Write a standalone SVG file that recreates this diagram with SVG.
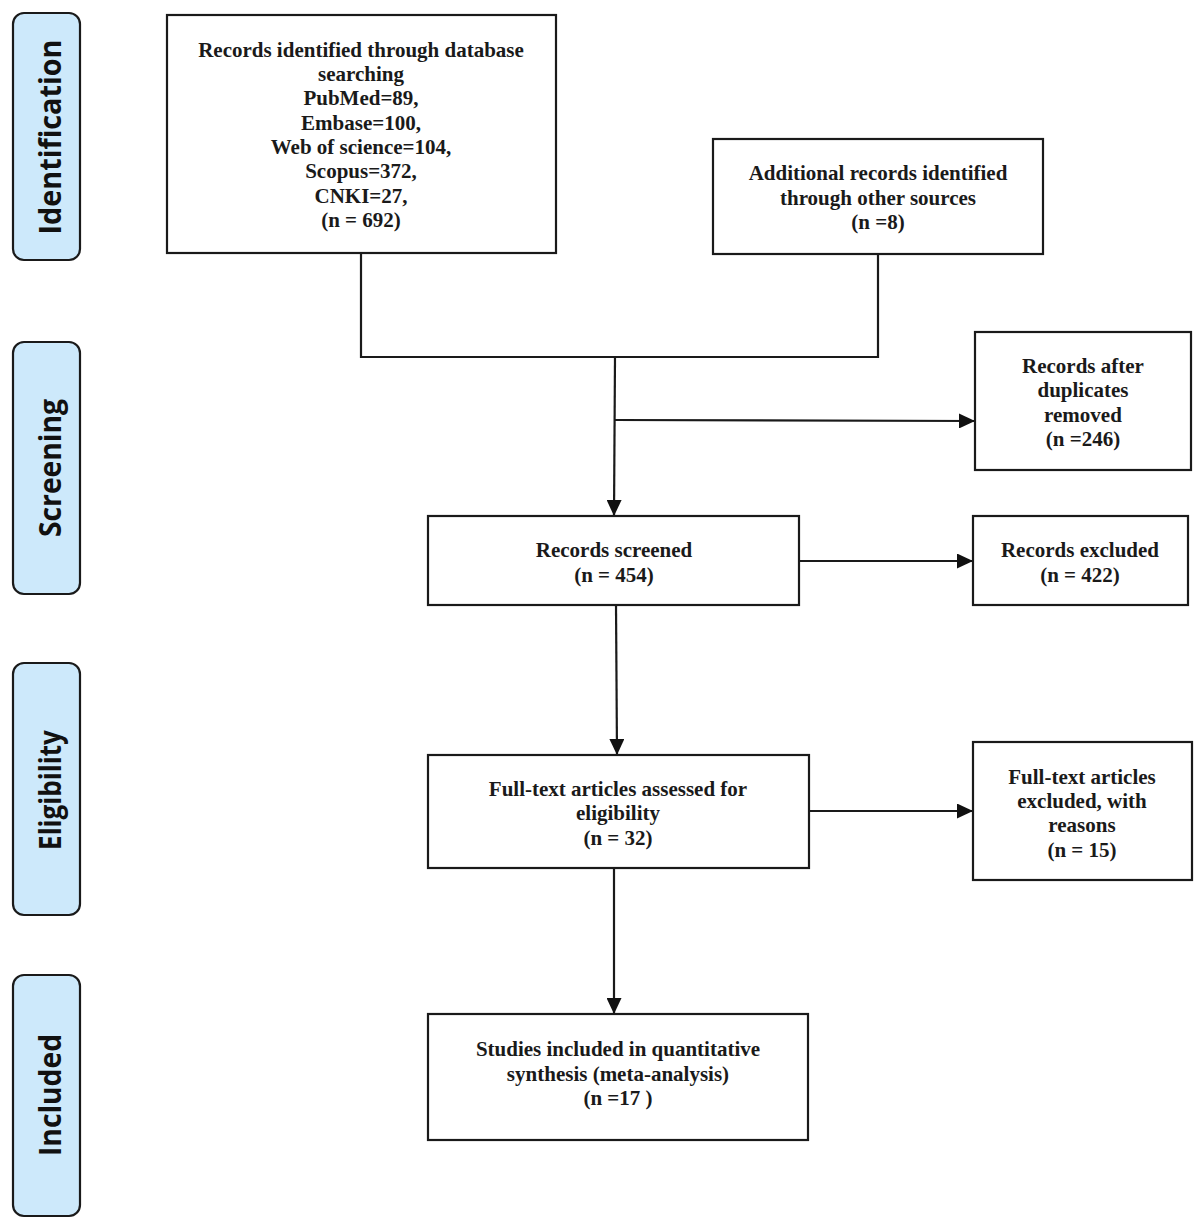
<svg xmlns="http://www.w3.org/2000/svg" width="1200" height="1225" viewBox="0 0 1200 1225">
<style>
.box{fill:#fff;stroke:#1a1a1a;stroke-width:2.2}
.phase{fill:#cde9fb;stroke:#1a1a1a;stroke-width:2.2}
.t{font-family:"Liberation Serif","Times New Roman",serif;font-weight:bold;font-size:21px;fill:#1a1a1a;text-anchor:middle}
.p{font-family:"Open Sans","Noto Sans",sans-serif;font-weight:bold;font-size:31px;fill:#111;text-anchor:middle}
.ln{fill:none;stroke:#1a1a1a;stroke-width:2.2}
</style>
<defs>
<marker id="ah" viewBox="0 0 16 15" refX="16" refY="7.5" markerWidth="16" markerHeight="15" markerUnits="userSpaceOnUse" orient="auto">
<path d="M0,0 L16,7.5 L0,15 Z" fill="#111"/>
</marker>
</defs>
<rect width="1200" height="1225" fill="#fff"/>

<g id="phase-identification">
<rect class="phase" x="13" y="13" width="67" height="247" rx="11"/>
<text class="p" x="61" y="137" transform="rotate(-90 61 137)" textLength="195" lengthAdjust="spacingAndGlyphs">Identification</text>
</g>
<g id="phase-screening">
<rect class="phase" x="13" y="342" width="67" height="252" rx="11"/>
<text class="p" x="61" y="468" transform="rotate(-90 61 468)" textLength="138" lengthAdjust="spacingAndGlyphs">Screening</text>
</g>
<g id="phase-eligibility">
<rect class="phase" x="13" y="663" width="67" height="252" rx="11"/>
<text class="p" x="61" y="790" transform="rotate(-90 61 790)" textLength="120" lengthAdjust="spacingAndGlyphs">Eligibility</text>
</g>
<g id="phase-included">
<rect class="phase" x="13" y="975" width="67" height="241" rx="11"/>
<text class="p" x="61" y="1095" transform="rotate(-90 61 1095)" textLength="122" lengthAdjust="spacingAndGlyphs">Included</text>
</g>

<g id="connectors">
<polyline class="ln" points="361,253 361,357 878,357 878,254"/>
<line class="ln" x1="615" y1="357" x2="614" y2="516" marker-end="url(#ah)"/>
<line class="ln" x1="615" y1="420" x2="975" y2="421" marker-end="url(#ah)"/>
<line class="ln" x1="799" y1="561" x2="973" y2="561" marker-end="url(#ah)"/>
<line class="ln" x1="616" y1="605" x2="617" y2="755" marker-end="url(#ah)"/>
<line class="ln" x1="809" y1="811" x2="973" y2="811" marker-end="url(#ah)"/>
<line class="ln" x1="614" y1="868" x2="614" y2="1014" marker-end="url(#ah)"/>
</g>

<g id="node-database">
<rect class="box" x="167" y="15" width="389" height="238"/>
<text class="t" x="361" y="57">Records identified through database</text>
<text class="t" x="361" y="81">searching</text>
<text class="t" x="361" y="105">PubMed=89,</text>
<text class="t" x="361" y="130">Embase=100,</text>
<text class="t" x="361" y="154">Web of science=104,</text>
<text class="t" x="361" y="178">Scopus=372,</text>
<text class="t" x="361" y="203">CNKI=27,</text>
<text class="t" x="361" y="227">(n = 692)</text>
</g>

<g id="node-additional">
<rect class="box" x="713" y="139" width="330" height="115"/>
<text class="t" x="878" y="180">Additional records identified</text>
<text class="t" x="878" y="205">through other sources</text>
<text class="t" x="878" y="229">(n =8)</text>
</g>

<g id="node-duplicates">
<rect class="box" x="975" y="332" width="216" height="138"/>
<text class="t" x="1083" y="373">Records after</text>
<text class="t" x="1083" y="397">duplicates</text>
<text class="t" x="1083" y="422">removed</text>
<text class="t" x="1083" y="446">(n =246)</text>
</g>

<g id="node-screened">
<rect class="box" x="428" y="516" width="371" height="89"/>
<text class="t" x="614" y="557">Records screened</text>
<text class="t" x="614" y="582">(n = 454)</text>
</g>

<g id="node-excluded">
<rect class="box" x="973" y="516" width="215" height="89"/>
<text class="t" x="1080" y="557">Records excluded</text>
<text class="t" x="1080" y="582">(n = 422)</text>
</g>

<g id="node-fulltext">
<rect class="box" x="428" y="755" width="381" height="113"/>
<text class="t" x="618" y="796">Full-text articles assessed for</text>
<text class="t" x="618" y="820">eligibility</text>
<text class="t" x="618" y="845">(n = 32)</text>
</g>

<g id="node-fulltext-excluded">
<rect class="box" x="973" y="742" width="219" height="138"/>
<text class="t" x="1082" y="784">Full-text articles</text>
<text class="t" x="1082" y="808">excluded, with</text>
<text class="t" x="1082" y="832">reasons</text>
<text class="t" x="1082" y="857">(n = 15)</text>
</g>

<g id="node-included">
<rect class="box" x="428" y="1014" width="380" height="126"/>
<text class="t" x="618" y="1056">Studies included in quantitative</text>
<text class="t" x="618" y="1081">synthesis (meta-analysis)</text>
<text class="t" x="618" y="1105">(n =17 )</text>
</g>
</svg>
